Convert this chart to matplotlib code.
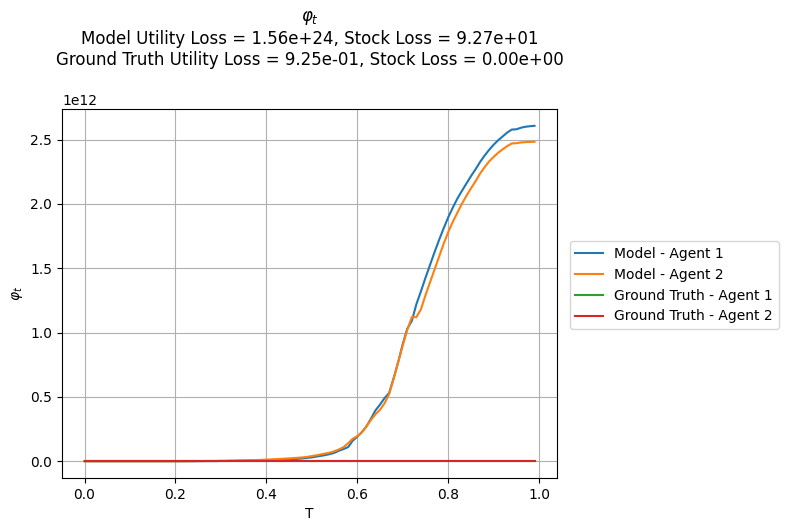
import matplotlib
matplotlib.use("Agg")
import matplotlib.pyplot as plt
import numpy as np

T = [i / 100 for i in range(100)]

# values in units of 1e12
model_agent1 = [
    0.000, 0.000, 0.000, 0.000, 0.000, 0.000, 0.000, 0.000, 0.000, 0.000,
    0.000, 0.000, 0.000, 0.000, 0.000, 0.000, 0.000, 0.000, 0.000, 0.000,
    0.000, 0.000, 0.000, 0.000, 0.000, 0.001, 0.001, 0.001, 0.001, 0.001,
    0.002, 0.002, 0.003, 0.003, 0.004, 0.004, 0.005, 0.005, 0.006, 0.007,
    0.008, 0.009, 0.010, 0.011, 0.012, 0.014, 0.016, 0.019, 0.022, 0.026,
    0.030, 0.036, 0.042, 0.048, 0.056, 0.066, 0.082, 0.095, 0.110, 0.160,
    0.190, 0.225, 0.270, 0.330, 0.395, 0.440, 0.490, 0.530, 0.645, 0.770,
    0.910, 1.030, 1.090, 1.220, 1.320, 1.425, 1.525, 1.625, 1.720, 1.810,
    1.895, 1.970, 2.040, 2.100, 2.158, 2.215, 2.268, 2.325, 2.375, 2.420,
    2.460, 2.495, 2.525, 2.555, 2.578, 2.580, 2.592, 2.600, 2.604, 2.607,
]
model_agent2 = [
    0.000, 0.000, 0.000, 0.000, 0.000, 0.000, 0.000, 0.000, 0.000, 0.000,
    0.000, 0.000, 0.000, 0.000, 0.000, 0.000, 0.000, 0.000, 0.000, 0.000,
    0.000, 0.000, 0.000, 0.001, 0.001, 0.001, 0.001, 0.002, 0.002, 0.002,
    0.003, 0.003, 0.004, 0.004, 0.005, 0.006, 0.007, 0.008, 0.009, 0.011,
    0.013, 0.014, 0.016, 0.018, 0.020, 0.022, 0.025, 0.027, 0.030, 0.034,
    0.040, 0.046, 0.053, 0.060, 0.067, 0.078, 0.092, 0.110, 0.140, 0.175,
    0.195, 0.225, 0.270, 0.320, 0.365, 0.400, 0.450, 0.520, 0.640, 0.770,
    0.900, 1.020, 1.120, 1.120, 1.180, 1.290, 1.390, 1.490, 1.590, 1.690,
    1.780, 1.860, 1.930, 2.000, 2.062, 2.120, 2.175, 2.235, 2.285, 2.330,
    2.365, 2.398, 2.425, 2.450, 2.470, 2.472, 2.478, 2.480, 2.482, 2.483,
]
# ground truth values are negligible on this scale
truth_agent1 = [
    0.0, 0.0, 0.0, 0.0, 0.0, 0.0, 0.0, 0.0, 0.0, 0.0,
    0.0, 0.0, 0.0, 0.0, 0.0, 0.0, 0.0, 0.0, 0.0, 0.0,
    0.0, 0.0, 0.0, 0.0, 0.0, 0.0, 0.0, 0.0, 0.0, 0.0,
    0.0, 0.0, 0.0, 0.0, 0.0, 0.0, 0.0, 0.0, 0.0, 0.0,
    0.0, 0.0, 0.0, 0.0, 0.0, 0.0, 0.0, 0.0, 0.0, 0.0,
    0.0, 0.0, 0.0, 0.0, 0.0, 0.0, 0.0, 0.0, 0.0, 0.0,
    0.0, 0.0, 0.0, 0.0, 0.0, 0.0, 0.0, 0.0, 0.0, 0.0,
    0.0, 0.0, 0.0, 0.0, 0.0, 0.0, 0.0, 0.0, 0.0, 0.0,
    0.0, 0.0, 0.0, 0.0, 0.0, 0.0, 0.0, 0.0, 0.0, 0.0,
    0.0, 0.0, 0.0, 0.0, 0.0, 0.0, 0.0, 0.0, 0.0, 0.0,
]
truth_agent2 = list(truth_agent1)

labels = ["Model - Agent 1", "Model - Agent 2",
          "Ground Truth - Agent 1", "Ground Truth - Agent 2"]

fig = plt.figure(figsize=(7.87, 5.32), dpi=100)
ax = fig.add_axes([0.0788, 0.1015, 0.629, 0.6935])
for series, label in zip([model_agent1, model_agent2, truth_agent1, truth_agent2], labels):
    ax.plot(T, np.asarray(series) * 1e12, label=label)
ax.set_xlabel("T")
ax.set_ylabel(r"$\varphi_t$")
ax.set_title(r"$\varphi_t$" + "\nModel Utility Loss = 1.56e+24, Stock Loss = 9.27e+01"
             "\nGround Truth Utility Loss = 9.25e-01, Stock Loss = 0.00e+00\n")
ax.grid(True)
ax.legend(loc="center left", bbox_to_anchor=(1.012, 0.523))
fig.savefig("out.png", dpi=100)
